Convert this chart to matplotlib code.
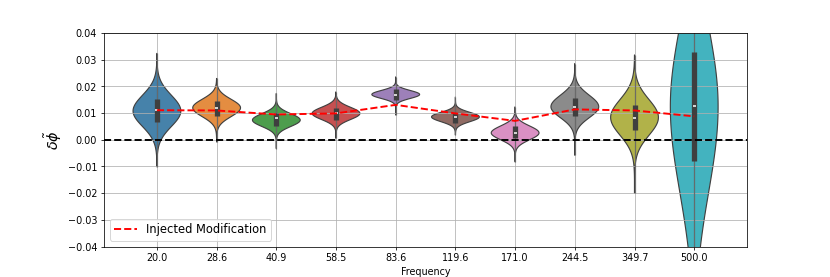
import numpy as np
import matplotlib
matplotlib.use("Agg")
import matplotlib.pyplot as plt

# frequency bins (x categories)
freqs = ['20.0', '28.6', '40.9', '58.5', '83.6', '119.6', '171.0', '244.5', '349.7', '500.0']

# injected modification per bin
injected = [0.0111, 0.0110, 0.0095, 0.0099, 0.0131, 0.0099, 0.0071, 0.0114, 0.0110, 0.0088]

# posterior summaries
medians = [0.0111, 0.0118, 0.0080, 0.0099, 0.0168, 0.0084, 0.0026, 0.0124, 0.0083, 0.0126]
q1 = [0.0068, 0.0089, 0.0051, 0.0074, 0.0149, 0.0064, 0.0005, 0.0089, 0.0036, -0.0079]
q3 = [0.0153, 0.0145, 0.0101, 0.0120, 0.0189, 0.0101, 0.0051, 0.0158, 0.0130, 0.0330]
lows = [-0.0101, -0.0008, -0.0033, 0.0005, 0.0093, 0.0018, -0.0083, -0.0058, -0.0200, -0.0900]
highs = [0.0324, 0.0230, 0.0174, 0.0180, 0.0236, 0.0161, 0.0124, 0.0286, 0.0318, 0.1100]
# density peak and spread below / above the peak
peaks = [0.0108, 0.0120, 0.0074, 0.0099, 0.0170, 0.0086, 0.0026, 0.0124, 0.0084, 0.0125]
spread_lo = [0.0058, 0.0033, 0.0024, 0.0023, 0.0015, 0.0018, 0.0026, 0.0041, 0.0067, 0.0320]
spread_hi = [0.0059, 0.0032, 0.0024, 0.0023, 0.0015, 0.0017, 0.0026, 0.0043, 0.0067, 0.0300]

# seaborn default palette, desaturated
colors = ['#3274a1', '#e1812c', '#3a923a', '#c03d3e', '#9372b2',
          '#845b53', '#d684bd', '#7f7f7f', '#a9aa35', '#2eabb8']

fig, ax = plt.subplots(figsize=(12, 4.005), dpi=69.2)

for i in range(len(freqs)):
    y = np.linspace(lows[i], highs[i], 400)
    sd = np.where(y < peaks[i], spread_lo[i], spread_hi[i])
    dens = np.exp(-0.5 * ((y - peaks[i]) / sd) ** 2)
    half = 0.4 * dens / dens.max()
    ax.fill_betweenx(y, i - half, i + half, facecolor=colors[i], alpha=0.9,
                     edgecolor='none', zorder=1)
    ax.fill_betweenx(y, i - half, i + half, facecolor='none',
                     edgecolor='#404040', linewidth=1.2, zorder=1)
    # inner box
    ax.vlines(i, lows[i], highs[i], color='#505050', linewidth=1.3, alpha=0.7, zorder=2)
    ax.vlines(i, q1[i], q3[i], color='#3f3f3f', linewidth=5.5, zorder=2)
    ax.hlines(medians[i], i - 0.025, i + 0.025, color='white', linewidth=1.6, zorder=3)

ax.plot(range(len(freqs)), injected, 'r--', linewidth=2, label='Injected Modification', zorder=4)
ax.axhline(0, color='k', linestyle='--', linewidth=2, zorder=4)

ax.set_xticks(range(len(freqs)))
ax.set_xticklabels(freqs)
ax.set_xlim(-0.89, 9.89)
ax.set_ylim(-0.04, 0.04)
ax.grid(True)
ax.set_xlabel('Frequency')
ax.set_ylabel(r'$\delta\tilde{\phi}$', fontsize=15)
ax.legend(loc='lower left', fontsize=12)

plt.savefig('out.png')
